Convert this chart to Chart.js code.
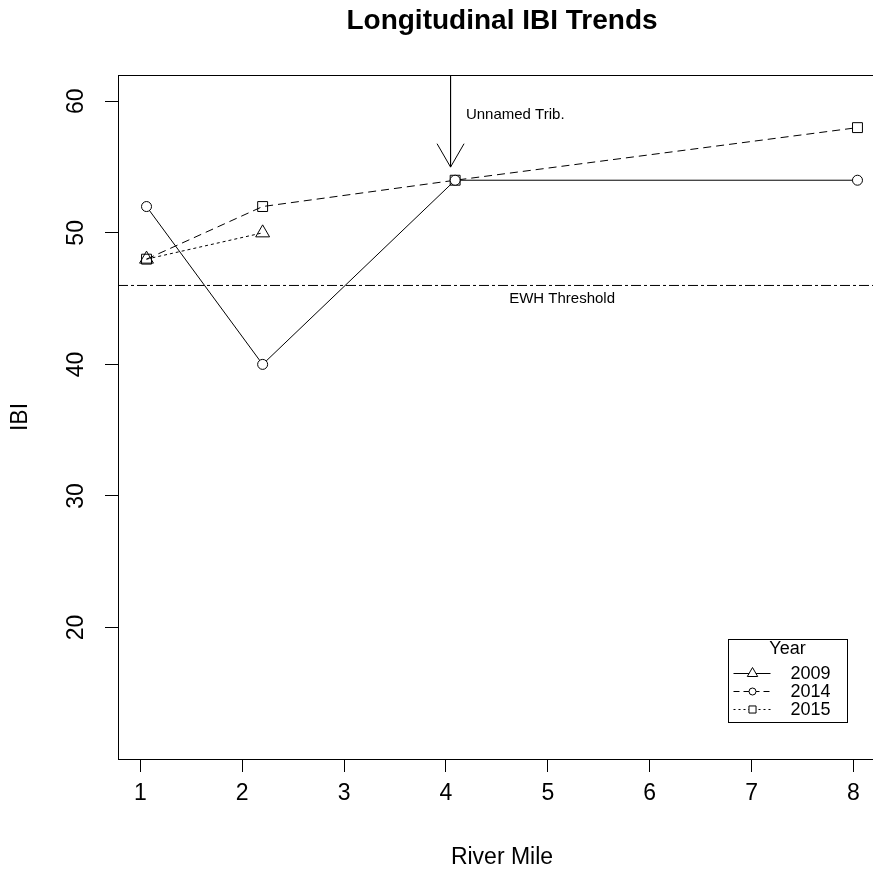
<!DOCTYPE html>
<html>
<head>
<meta charset="utf-8">
<title>Longitudinal IBI Trends</title>
<script src="https://cdn.jsdelivr.net/npm/chart.js@4.4.1/dist/chart.umd.min.js"></script>
<style>
  html, body { margin: 0; padding: 0; background: #fff; overflow: hidden; }
  #wrap { width: 873px; height: 871px; overflow: hidden; }
</style>
</head>
<body>
<div id="wrap"><canvas id="ibiChart" width="900" height="871"></canvas></div>
<script>
// Data
const riverMile = [1.06, 2.2, 4.09, 8.04];
const ibi2009 = [48, 50];
const ibi2014 = [52, 40, 54, 54];
const ibi2015 = [48, 52, 54, 58];
const xTicks = [1, 2, 3, 4, 5, 6, 7, 8];
const yTicks = [20, 30, 40, 50, 60];

// Reference line + tributary arrow
const threshold = 46;
const tribMile = 4.045;
const tribTop = 62;
const tribTip = 55;

// Legend (as drawn in the original, styles differ from the plotted lines)
const legendYears = ['2009', '2014', '2015'];
const legendDash = [[], [6, 4], [2, 3]];
const legendPoint = ['triangle', 'circle', 'rect'];
const legendRadius = [6, 3.5, 5];

const FONT = '"Liberation Sans", Arial, sans-serif';
const xMin = 0.78, xMax = 8.32;

function pts(ys) {
    return ys.map(function (v, i) { return { x: riverMile[i], y: v }; });
}

const rPlot = {
    id: 'rPlot',
    afterDraw: function (chart) {
        const ctx = chart.ctx;
        const a = chart.chartArea;
        const xs = chart.scales.x;
        const ys = chart.scales.y;
        const cx = (a.left + a.right) / 2;
        ctx.save();

        // plot box
        ctx.strokeStyle = '#000';
        ctx.lineWidth = 1;
        ctx.setLineDash([]);
        ctx.strokeRect(Math.round(a.left) + 0.5, Math.round(a.top) + 0.5,
            Math.round(a.right - a.left), Math.round(a.bottom - a.top));

        ctx.fillStyle = '#000';
        ctx.textAlign = 'center';
        ctx.textBaseline = 'middle';

        // y tick labels, parallel to axis
        ctx.font = '23px ' + FONT;
        yTicks.forEach(function (v) {
            ctx.save();
            ctx.translate(a.left - 41, ys.getPixelForValue(v));
            ctx.rotate(-Math.PI / 2);
            ctx.fillText(String(v), 0, 0);
            ctx.restore();
        });

        // axis titles
        ctx.fillText('River Mile', cx, 858);
        ctx.save();
        ctx.translate(21, (a.top + a.bottom) / 2);
        ctx.rotate(-Math.PI / 2);
        ctx.fillText('IBI', 0, 0);
        ctx.restore();

        // main title
        ctx.font = 'bold 28px ' + FONT;
        ctx.fillText('Longitudinal IBI Trends', cx, 21);

        // annotations
        ctx.font = '15px ' + FONT;
        ctx.fillText('Unnamed Trib.', xs.getPixelForValue(4.68), ys.getPixelForValue(59));
        ctx.fillText('EWH Threshold', xs.getPixelForValue(5.14), ys.getPixelForValue(45));

        // arrow head
        const tx = xs.getPixelForValue(tribMile);
        const ty = ys.getPixelForValue(tribTip);
        const len = 27, ang = Math.PI / 6;
        ctx.beginPath();
        ctx.moveTo(tx - len * Math.sin(ang), ty - len * Math.cos(ang));
        ctx.lineTo(tx, ty);
        ctx.lineTo(tx + len * Math.sin(ang), ty - len * Math.cos(ang));
        ctx.stroke();

        // legend
        const lw = 119, lh = 83;
        const lx = Math.round(a.right - 39 - lw) + 0.5;
        const ly = Math.round(a.bottom - 37 - lh) + 0.5;
        ctx.fillStyle = '#fff';
        ctx.fillRect(lx, ly, lw, lh);
        ctx.strokeRect(lx, ly, lw, lh);
        ctx.fillStyle = '#000';
        ctx.font = '18px ' + FONT;
        ctx.fillText('Year', lx + 59, ly + 10);
        ctx.textAlign = 'left';
        legendYears.forEach(function (yr, i) {
            const ry = ly + 34 + i * 18;
            ctx.setLineDash(legendDash[i]);
            ctx.beginPath();
            ctx.moveTo(lx + 5, ry);
            ctx.lineTo(lx + 42, ry);
            ctx.stroke();
            ctx.setLineDash([]);
            ctx.fillStyle = '#fff';
            Chart.helpers.drawPoint(ctx, {
                pointStyle: legendPoint[i], radius: legendRadius[i], borderWidth: 1
            }, lx + 24, ry);
            ctx.fillStyle = '#000';
            ctx.fillText(yr, lx + 62, ry + 1);
        });
        ctx.restore();
    }
};

const baseLine = {
    borderColor: '#000',
    borderWidth: 1,
    pointBorderColor: '#000',
    pointBorderWidth: 1,
    pointHoverRadius: 0,
    tension: 0,
    fill: false,
};

new Chart(document.getElementById('ibiChart').getContext('2d'), {
    type: 'scatter',
    data: {
        datasets: [
            Object.assign({}, baseLine, {
                label: '2009', data: pts(ibi2009), showLine: true,
                borderDash: [3, 3], pointStyle: 'triangle', pointRadius: 8,
                pointBackgroundColor: 'rgba(0,0,0,0)',
            }),
            Object.assign({}, baseLine, {
                label: '2014', data: pts(ibi2014), showLine: true,
                pointStyle: 'circle', pointRadius: 5,
                pointBackgroundColor: '#fff',
            }),
            Object.assign({}, baseLine, {
                label: '2015', data: pts(ibi2015), showLine: true,
                borderDash: [8, 5], pointStyle: 'rect', pointRadius: 7,
                pointBackgroundColor: 'rgba(0,0,0,0)',
            }),
            Object.assign({}, baseLine, {
                label: 'EWH Threshold',
                data: [{ x: xMin, y: threshold }, { x: xMax, y: threshold }],
                showLine: true, borderDash: [10, 3, 3, 3], pointRadius: 0,
            }),
            Object.assign({}, baseLine, {
                label: 'Unnamed Trib.',
                data: [{ x: tribMile, y: tribTop }, { x: tribMile, y: tribTip }],
                showLine: true, pointRadius: 0,
            }),
        ],
    },
    options: {
        responsive: false,
        animation: false,
        events: [],
        layout: { padding: { top: 75, right: 14, left: 0, bottom: 0 } },
        plugins: {
            legend: { display: false },
            title: { display: false },
            tooltip: { enabled: false },
        },
        scales: {
            x: {
                type: 'linear',
                min: xMin,
                max: xMax,
                afterBuildTicks: function (s) { s.ticks = xTicks.map(function (v) { return { value: v }; }); },
                afterFit: function (s) { s.height = 112; },
                border: { display: false },
                grid: { drawOnChartArea: false, drawTicks: true, tickLength: 13, color: '#000' },
                ticks: { color: '#000', font: { family: FONT, size: 23 }, padding: 8, maxRotation: 0 },
            },
            y: {
                type: 'linear',
                min: 10,
                max: 62,
                afterBuildTicks: function (s) { s.ticks = yTicks.map(function (v) { return { value: v }; }); },
                afterFit: function (s) { s.width = 118; },
                border: { display: false },
                grid: { drawOnChartArea: false, drawTicks: true, tickLength: 13, color: '#000' },
                ticks: { display: false },
            },
        },
    },
    plugins: [rPlot],
});
</script>
</body>
</html>
